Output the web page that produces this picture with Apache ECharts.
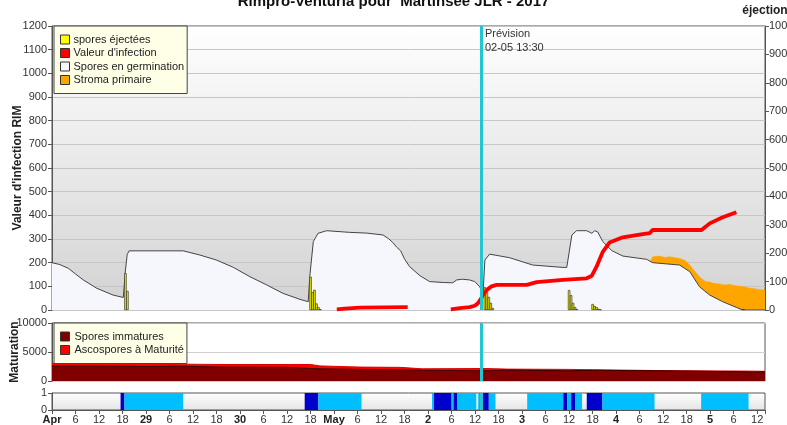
<!DOCTYPE html>
<html><head><meta charset="utf-8">
<script src="https://cdn.jsdelivr.net/npm/echarts@6/dist/echarts.min.js"></script>
<style>html,body{margin:0;padding:0;background:#fff}#c{width:787px;height:425px}</style>
</head><body><div id="c"></div>
<script>
// ---------- DATA ----------
const titleText = 'Rimpro-Venturia pour  Martinsee JLR - 2017';
const dayLabels = ['Apr', '29', '30', 'May', '2', '3', '4', '5'];
const hourLabels = ['', '6', '12', '18'];
const forecastHour = 109.5;
const forecastText = ['Prévision', '02-05 13:30'];

// Spores en germination (left axis, RIM units)
const germHours = [0,2,4.2,6,8,11.4,15.6,18.2,18.7,19.2,19.7,33.5,37.8,42,46.3,50.5,54.8,59,63.3,65.4,65.8,66.7,67.9,70.1,76,80.3,84.5,86,87,88,89,90,91.3,93.9,96.4,100,102.3,103.3,104.8,106.6,107.9,109.2,110,110.5,111.7,116.8,122.7,130.4,131.4,132.7,133.9,136.5,137.8,138.5,139.3,140.6,142.9,145.7,151.8,153.3,160.2,162.8,165.3,167.9,171.2,174.7,176.3,182];
const germValues = [200,192,176,152,127,92,63,53,160,235,250,250,232,211,180,141,106,70,45,35,141,289,324,335,328,325,317,300,285,265,250,215,183,145,120,116,115,127,130,127,120,98,63,211,236,221,190,180,180,317,335,335,324,335,330,289,251,228,214,200,190,162,98,63,35,11,0,0];

// Valeur d'infection (left axis) - null = gap
const rimHours = [72.7,74.7,78.6,90.8,91,101.8,104.1,106.6,107.9,108.7,109.4,110,111,112.2,113.5,121.2,123.7,130.4,136.5,137.8,139,140.6,142.3,145.7,150.8,152.6,153.3,165.8,167.9,171.2,174.7];
const rimValues = [3,6,10,12,null,3,8,12,18,28,45,63,85,100,106,106,118,127,134,145,183,246,285,307,321,325,338,338,366,392,413];

// Stroma primaire (left axis)
const stromaHours = [152.6,153.3,155.1,156.4,157.7,160.2,161.5,162.8,164,165.3,166,166.8,167.9,169.1,170.4,171.7,172.9,174.2,175.5,176.8,178.1,179.3,180.6,182];
const stromaValues = [200,225,228,222,225,218,210,190,165,140,130,120,118,112,110,106,108,104,100,98,92,90,86,84];

// spores éjectées (right axis, éjection units)
const ejHours = [18.75,19.25,66,66.5,67,67.5,68,68.5,104,110.5,111,111.5,112,112.5,132,132.5,133,133.5,134,138,138.5,139,139.5,140,176.5];
const ejValues = [130,67,117,63,71,23,10,3,7,80,63,46,25,7,70,52,25,10,3,21,14,10,4,2,3];

// Maturation (step values held from each hour)
const matHours = [0,12.2,23.7,33.4,42.9,60.7,66,68.4,78.6,88.8,94.6,110.5,116.1,132.1,138,160.7,179.3,182];
const immatureValues = [2600,2500,2550,2400,2350,2150,2100,2000,1950,1850,1750,1900,1750,1850,1720,1550,1600,1600];
const matureValues = [450,550,350,450,500,700,500,400,400,250,400,150,250,80,40,150,60,60];

// Bottom band intervals [start hour, end hour, kind]  kind 1 = light, 2 = dark
const bandIntervals = [
  [17.5,18.5,2],[18.5,33.5,1],[64.5,68,2],[68,79,1],[97,97.5,1],[97.5,102,2],[102,102.5,1],[102.5,103.5,2],
  [103.5,108.3,1],[108.8,109.2,1],[109.2,111.5,2],[111.5,113.2,1],[121.3,130.5,1],[130.5,131.5,2],[131.5,132.5,1],
  [132.5,133.5,2],[133.5,135.3,1],[136.5,140.5,2],[140.5,153.8,1],[165.7,177.8,1]
];

// ---------- CHART ----------
const zip = (a, b) => a.map((v, i) => [v, b[i]]);
const totalValues = immatureValues.map((v, i) => v + matureValues[i]);
const FONT = 'Liberation Sans';
const XMAX = 182;
const chart = echarts.init(document.getElementById('c'));
const grad = (c1, c2) => new echarts.graphic.LinearGradient(0, 0, 0, 1, [{offset:0,color:c1},{offset:1,color:c2}]);
const fLine = {silent:true, symbol:'none', animation:false, label:{show:false},
  lineStyle:{color:'#22c6d2', width:3, type:'solid'}, data:[{xAxis: forecastHour}]};

const xBase = (i, show) => ({
  type:'value', gridIndex:i, min:0, max:XMAX, interval:6,
  axisLine:{show:show, lineStyle:{color:'#555'}},
  axisTick:{show:show, length:4, lineStyle:{color:'#555'}},
  splitLine:{show:false},
  axisLabel:{show:show, fontFamily:FONT, fontSize:11, color:'#333', margin:4,
    formatter: v => {
      if (v % 6 !== 0) return '';
      const h = v % 24;
      if (h === 0) return '{b|' + dayLabels[v / 24] + '}';
      return hourLabels[h / 6];
    },
    rich:{b:{fontWeight:'bold', fontFamily:FONT, fontSize:11, color:'#222'}}
  }
});
const yLab = {fontFamily:FONT, fontSize:11, color:'#333', margin:5, formatter: v => String(v)};
const gridBase = {left:52, right:22, show:true, borderColor:'#555', borderWidth:1, containLabel:false, outerBoundsMode:'none'};

const option = {
  animation:false,
  textStyle:{fontFamily:FONT},
  title:{text:titleText, left:'center', top:-11, textStyle:{fontFamily:FONT, fontSize:15, fontWeight:'bold', color:'#111'}},
  grid:[
    Object.assign({}, gridBase, {top:26, height:284, backgroundColor:grad('#ffffff','#d2d2d2')}),
    Object.assign({}, gridBase, {top:323, height:58, backgroundColor:'#ffffff'}),
    Object.assign({}, gridBase, {top:393, height:17, backgroundColor:grad('#ffffff','#e4e4e4')})
  ],
  xAxis:[xBase(0,false), xBase(1,false), xBase(2,true)],
  yAxis:[
    {type:'value', gridIndex:0, min:0, max:1200, interval:100, position:'left',
     name:"Valeur d'infection RIM", nameLocation:'middle', nameGap:28, nameMoveOverlap:false,
     nameTextStyle:{fontFamily:FONT, fontSize:12, fontWeight:'bold', color:'#222'},
     axisLine:{show:true, lineStyle:{color:'#555'}}, axisTick:{show:true, length:4},
     axisLabel:yLab, splitLine:{show:true, lineStyle:{color:'#c6c6c6'}}},
    {type:'value', gridIndex:0, min:0, max:1000, interval:100, position:'right',
     name:'éjection', nameLocation:'end', nameGap:9, nameMoveOverlap:false,
     nameTextStyle:{fontFamily:FONT, fontSize:12, fontWeight:'bold', color:'#222', align:'center'},
     axisLine:{show:true, lineStyle:{color:'#555'}}, axisTick:{show:true, length:4},
     axisLabel:Object.assign({}, yLab, {margin:4}), splitLine:{show:false}},
    {type:'value', gridIndex:1, min:0, max:10000, interval:5000,
     name:'Maturation', nameLocation:'middle', nameGap:31, nameMoveOverlap:false,
     nameTextStyle:{fontFamily:FONT, fontSize:12, fontWeight:'bold', color:'#222'},
     axisLine:{show:true, lineStyle:{color:'#555'}}, axisTick:{show:true, length:4},
     axisLabel:yLab, splitLine:{show:true, lineStyle:{color:'#d0d0d0'}}},
    {type:'value', gridIndex:2, min:0, max:1, interval:1,
     axisLine:{show:true, lineStyle:{color:'#555'}}, axisTick:{show:true, length:4},
     axisLabel:yLab, splitLine:{show:false}}
  ],
  legend:[
    {left:54, top:26, orient:'vertical', backgroundColor:'#ffffe8', borderColor:'#444', borderWidth:1,
     padding:[8,3,8,6], itemWidth:9, itemHeight:9, itemGap:2.5, borderRadius:0,
     textStyle:{fontFamily:FONT, fontSize:11, color:'#222', padding:[0,0,0,-1]},
     data:[
       {name:'spores éjectées', icon:'rect', itemStyle:{color:'#ffff00', borderColor:'#333', borderWidth:1}},
       {name:"Valeur d'infection", icon:'rect', itemStyle:{color:'#ff0000', borderColor:'#333', borderWidth:1}},
       {name:'Spores en germination', icon:'rect', itemStyle:{color:'#f6f6fc', borderColor:'#333', borderWidth:1}},
       {name:'Stroma primaire', icon:'rect', itemStyle:{color:'#ffa500', borderColor:'#333', borderWidth:1}}
     ]},
    {left:54, top:323, orient:'vertical', backgroundColor:'#ffffe8', borderColor:'#444', borderWidth:1,
     padding:[8,3,8,6], itemWidth:9, itemHeight:9, itemGap:2.5,
     textStyle:{fontFamily:FONT, fontSize:11, color:'#222'},
     data:[
       {name:'Spores immatures', icon:'rect', itemStyle:{color:'#800000', borderColor:'#333', borderWidth:1}},
       {name:'Ascospores à Maturité', icon:'rect', itemStyle:{color:'#ff0000', borderColor:'#333', borderWidth:1}}
     ]}
  ],
  series:[
    {name:'Stroma primaire', type:'line', xAxisIndex:0, yAxisIndex:0, data:zip(stromaHours, stromaValues),
     showSymbol:false, lineStyle:{width:0.5, color:'#ffa500'}, itemStyle:{color:'#ffa500'},
     areaStyle:{color:'#ffa500', opacity:1}, z:1},
    {name:'Spores en germination', type:'line', xAxisIndex:0, yAxisIndex:0, data:zip(germHours, germValues),
     showSymbol:false, lineStyle:{width:1, color:'#444'}, itemStyle:{color:'#f6f6fc'},
     areaStyle:{color:'#f6f7fd', opacity:1}, z:2, markLine:fLine},
    {name:'spores éjectées', type:'bar', xAxisIndex:0, yAxisIndex:1, data:zip(ejHours, ejValues),
     barWidth:2.4, itemStyle:{color:'#eaea00', borderColor:'#222', borderWidth:0.6}, z:3},
    {name:"Valeur d'infection", type:'line', xAxisIndex:0, yAxisIndex:0, data:zip(rimHours, rimValues),
     showSymbol:false, connectNulls:false, lineStyle:{width:3.8, color:'#ff0000'}, itemStyle:{color:'#ff0000'}, z:4},
    {name:'Ascospores à Maturité', type:'line', xAxisIndex:1, yAxisIndex:2, data:zip(matHours, totalValues),
     step:'end', showSymbol:false, lineStyle:{width:1, color:'#dd0000'}, itemStyle:{color:'#ff0000'},
     areaStyle:{color:'#ff0000', opacity:1}, z:2},
    {name:'Spores immatures', type:'line', xAxisIndex:1, yAxisIndex:2, data:zip(matHours, immatureValues),
     step:'end', showSymbol:false, lineStyle:{width:1, color:'#3a0000'}, itemStyle:{color:'#800000'},
     areaStyle:{color:'#800000', opacity:1}, z:3, markLine:fLine},
    {name:'band', type:'custom', xAxisIndex:2, yAxisIndex:3, data:bandIntervals,
     encode:{x:[0,1]},
     renderItem:(params, api) => {
       const s = api.coord([api.value(0), 1]);
       const e = api.coord([api.value(1), 0]);
       return {type:'rect', shape:{x:s[0], y:s[1], width:e[0]-s[0], height:e[1]-s[1]},
               style:{fill: api.value(2) === 2 ? '#0000cc' : '#00bfff'}};
     },
     markLine:fLine}
  ]
};
chart.setOption(option);
const px = chart.convertToPixel({xAxisIndex:0}, forecastHour);
chart.setOption({graphic:[{type:'text', left:px + 4, top:27, z:100,
  style:{text:forecastText.join('\n'), fontFamily:FONT, fontSize:11, lineHeight:14, fill:'#333'}}]});
</script></body></html>
